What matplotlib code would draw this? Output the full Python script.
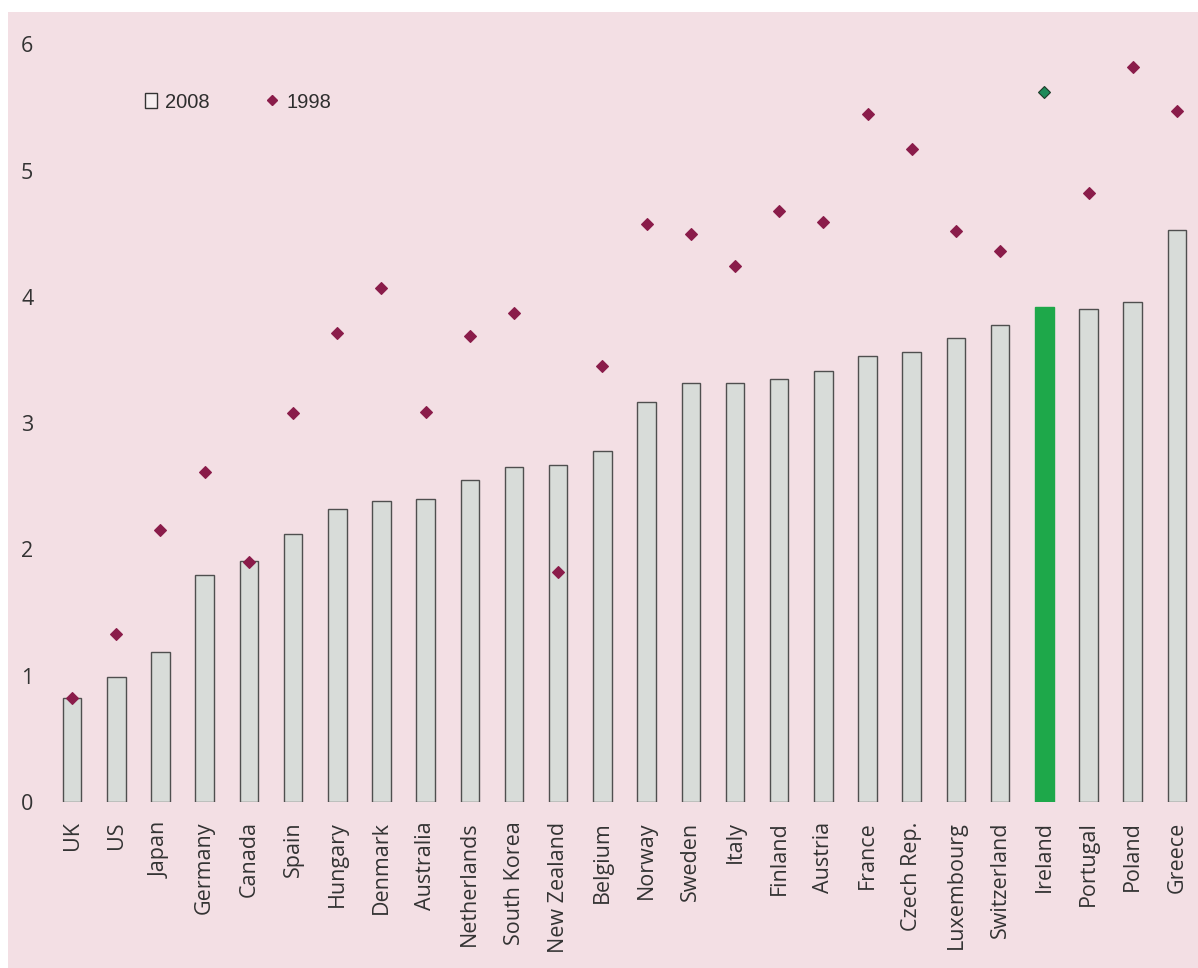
import matplotlib.pyplot as plt
import matplotlib.patches as patches
from matplotlib.lines import Line2D
import numpy as np

countries = ['UK', 'US', 'Japan', 'Germany', 'Canada', 'Spain', 'Hungary',
             'Denmark', 'Australia', 'Netherlands', 'South Korea', 'New Zealand',
             'Belgium', 'Norway', 'Sweden', 'Italy', 'Finland', 'Austria',
             'France', 'Czech Rep.', 'Luxembourg', 'Switzerland', 'Ireland',
             'Portugal', 'Poland', 'Greece']

values_2008 = [0.82, 0.99, 1.19, 1.80, 1.91, 2.12, 2.32, 2.38, 2.40, 2.55,
               2.65, 2.67, 2.78, 3.17, 3.32, 3.32, 3.35, 3.41, 3.53, 3.56,
               3.67, 3.78, 3.92, 3.90, 3.96, 4.53]

values_1998 = [0.82, 1.33, 2.15, 2.61, 1.90, 3.08, 3.71, 4.07, 3.09, 3.69,
               3.87, 1.82, 3.45, 4.58, 4.50, 4.24, 4.68, 4.59, 5.45, 5.17,
               4.52, 4.36, 5.62, 4.82, 5.82, 5.47]

highlight = 'Ireland'
yticks = [0, 1, 2, 3, 4, 5, 6]

bg = '#f3dfe4'
bar_grey = '#d8dcd9'
bar_edge = '#4f4f4f'
green = '#1ea84a'
diamond_red = '#8a1c4a'
diamond_green = '#1e8a5a'

## Figure with a thin white margin on the top and left, pink elsewhere.
fig = plt.figure(figsize=(11.98, 9.68), dpi=100, facecolor='white')
fig.patches.append(patches.Rectangle((8 / 1198, 0), 1, (968 - 12) / 968,
                                     transform=fig.transFigure,
                                     facecolor=bg, edgecolor='none',
                                     zorder=-10))

ax = fig.add_axes([50 / 1198, 166 / 968, 1149 / 1198, 790 / 968])
ax.set_facecolor('none')

x = np.arange(len(countries))
bar_colors = [green if c == highlight else bar_grey for c in countries]
edge_colors = [green if c == highlight else bar_edge for c in countries]
ax.bar(x, values_2008, width=0.42, color=bar_colors, edgecolor=edge_colors,
       linewidth=1.0, zorder=2)

## 1998 values as small diamonds, highlighted country in green.
for xi, c, v in zip(x, countries, values_1998):
  face = diamond_green if c == highlight else diamond_red
  edge = '#1f3a2a' if c == highlight else diamond_red
  ax.plot(xi, v, marker='D', markersize=5.8, markerfacecolor=face,
          markeredgecolor=edge, markeredgewidth=0.8, linestyle='none',
          zorder=3)

ax.set_xlim(-0.5, len(countries) - 0.5)
ax.set_ylim(0, 6.255)

ax.set_yticks(yticks)
ax.set_yticklabels([str(t) for t in yticks])
ax.set_xticks(x)
ax.set_xticklabels(countries, rotation=90)

for spine in ax.spines.values():
  spine.set_visible(False)
ax.tick_params(axis='both', length=0, labelsize=15.5)
ax.tick_params(axis='y', pad=12)
ax.tick_params(axis='x', pad=14)
for label in ax.get_xticklabels() + ax.get_yticklabels():
  label.set_fontfamily('Open Sans')
  label.set_color('#333333')

## Legend
handles = [patches.Patch(facecolor='#f6eef0', edgecolor='#333333',
                         linewidth=1.0, label='2008'),
           Line2D([], [], marker='D', markersize=5, color=diamond_red,
                  linestyle='none', label='1998')]
leg = ax.legend(handles=handles, ncol=2, frameon=False,
                loc='center left', bbox_to_anchor=(0.0827, 0.886),
                borderpad=0, borderaxespad=0,
                handlelength=0.6, handleheight=0.8, handletextpad=0.4,
                columnspacing=2.8,
                prop={'family': 'Liberation Sans', 'size': 14.5})
for text in leg.get_texts():
  text.set_color('#2e2e2e')

fig.savefig('out.png', dpi=100, facecolor='white')
